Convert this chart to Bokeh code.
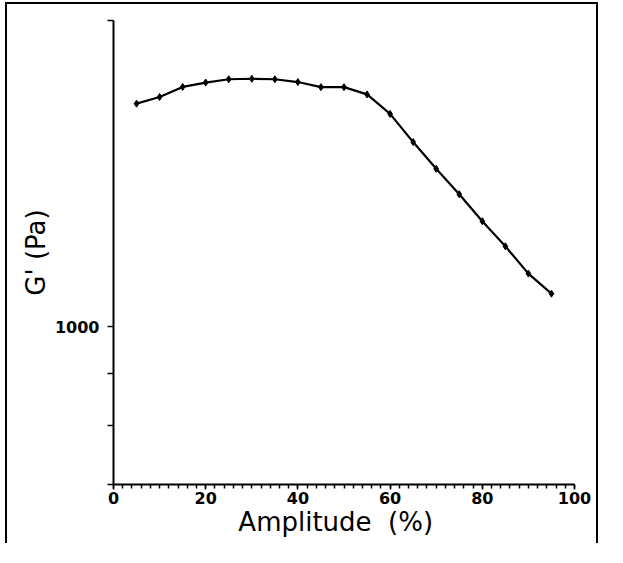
from bokeh.plotting import figure
from bokeh.models import FixedTicker, Range1d
from bokeh.embed import file_html
from bokeh.resources import INLINE

amplitude = [5, 10, 15, 20, 25, 30, 35, 40, 45, 50, 55, 60, 65, 70, 75, 80, 85, 90, 95]
g_prime = [1657, 1682, 1721, 1738, 1751, 1753, 1751, 1740, 1720, 1720, 1692, 1619,
           1519, 1430, 1350, 1270, 1200, 1128, 1078]

x_ticks = [0, 20, 40, 60, 80, 100]
y_ticks = [700, 800, 900, 1000, 2000]
y_tick_labels = {700: "", 800: "", 900: "", 1000: "1000", 2000: ""}

p = figure(width=593, height=541, y_axis_type="log",
           x_range=Range1d(0, 100), y_range=Range1d(700, 2000),
           output_backend="svg", toolbar_location=None,
           min_border_left=106, min_border_right=26, min_border_top=16, min_border_bottom=61)
p.styles = {"position": "relative", "left": "5px", "top": "2px",
            "border-left": "2px solid black", "border-right": "2px solid black",
            "border-top": "2px solid black"}

p.outline_line_color = None
p.xgrid.visible = False
p.ygrid.visible = False
p.background_fill_color = "white"
p.border_fill_color = "white"

p.line(amplitude, g_prime, line_color="black", line_width=2.2)
p.scatter(amplitude, g_prime, marker="diamond", size=7, color="black")

xa = p.xaxis[0]
xa.ticker = FixedTicker(ticks=x_ticks, minor_ticks=list(range(0, 101, 2)))
xa.axis_label = "Amplitude\u00a0 (%)\u00a0\u00a0"
xa.axis_label_text_font = "DejaVu Sans"
xa.axis_label_text_font_style = "normal"
xa.axis_label_text_font_size = "26px"
xa.axis_label_text_color = "black"
xa.axis_label_standoff = 0
xa.major_label_text_font = "DejaVu Sans"
xa.major_label_text_font_style = "bold"
xa.major_label_text_font_size = "16px"
xa.major_label_text_color = "black"
xa.major_label_standoff = 2
xa.major_tick_in = 0
xa.major_tick_out = 5
xa.minor_tick_in = 0
xa.minor_tick_out = 4
xa.axis_line_width = 2
xa.major_tick_line_width = 1.5
xa.minor_tick_line_width = 1.5
xa.axis_line_color = "black"

ya = p.yaxis[0]
ya.ticker = FixedTicker(ticks=y_ticks)
ya.major_label_overrides = y_tick_labels
ya.axis_label = "G' (Pa)"
ya.axis_label_text_font = "DejaVu Sans"
ya.axis_label_text_font_style = "normal"
ya.axis_label_text_font_size = "26px"
ya.axis_label_text_color = "black"
ya.axis_label_standoff = 1
ya.major_label_text_font = "DejaVu Sans"
ya.major_label_text_font_style = "bold"
ya.major_label_text_font_size = "16px"
ya.major_label_text_color = "black"
ya.major_label_standoff = 8
ya.major_tick_in = 0
ya.major_tick_out = 6
ya.minor_tick_line_color = None
ya.axis_line_width = 2
ya.major_tick_line_width = 1.5
ya.axis_line_color = "black"

open("out.html", "w").write(file_html(p, INLINE))
